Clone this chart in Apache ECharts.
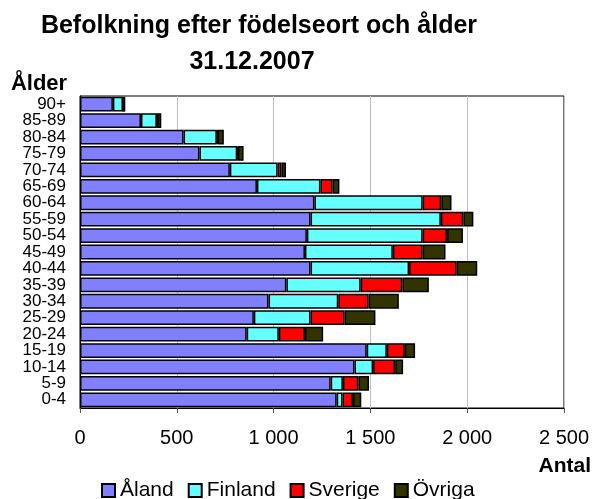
<!DOCTYPE html>
<html>
<head>
<meta charset="utf-8">
<script src="https://cdn.jsdelivr.net/npm/echarts@6/dist/echarts.min.js"></script>
<style>
  html, body { margin: 0; padding: 0; background: #fff; }
  #main { width: 592px; height: 499px; }
</style>
</head>
<body>
<div id="main"></div>
<script>
// age groups, bottom to top
var ageGroups = ['0-4', '5-9', '10-14', '15-19', '20-24', '25-29', '30-34', '35-39', '40-44',
  '45-49', '50-54', '55-59', '60-64', '65-69', '70-74', '75-79', '80-84', '85-89', '90+'];

var aland   = [1326, 1295, 1418, 1481, 861, 898, 974, 1066, 1191, 1162, 1172, 1191, 1211, 914, 774, 617, 535, 315, 170];
var finland = [30, 63, 96, 104, 166, 293, 360, 384, 509, 454, 598, 673, 559, 328, 247, 195, 172, 82, 52];
var sverige = [54, 80, 114, 93, 135, 176, 157, 215, 246, 154, 126, 116, 96, 63, 20, 4, 4, 2, 1];
var ovriga  = [43, 55, 41, 53, 94, 159, 156, 137, 106, 118, 82, 52, 53, 35, 23, 29, 32, 21, 11];

var xTicks = [0, 500, 1000, 1500, 2000, 2500];
var xTickLabels = ['0', '500', '1 000', '1 500', '2 000', '2 500'];

var FONT = '"Liberation Sans", Arial, sans-serif';

var chart = echarts.init(document.getElementById('main'), null, { renderer: 'canvas' });

function barSeries(name, data, color) {
  return {
    name: name,
    type: 'bar',
    stack: 'total',
    data: data,
    barCategoryGap: '10%',
    itemStyle: { color: color, borderColor: '#000', borderWidth: 1.5 },
    emphasis: { disabled: true }
  };
}

var option = {
  animation: false,
  backgroundColor: '#fff',
  textStyle: { fontFamily: FONT },
  graphic: [
    { type: 'text', x: 259, y: 26, style: { text: 'Befolkning efter födelseort och ålder', font: 'bold 25px ' + FONT, fill: '#000', align: 'center', verticalAlign: 'middle' } },
    { type: 'text', x: 252, y: 62, style: { text: '31.12.2007', font: 'bold 25px ' + FONT, fill: '#000', align: 'center', verticalAlign: 'middle' } },
    { type: 'text', x: 39, y: 84, style: { text: 'Ålder', font: 'bold 22px ' + FONT, fill: '#000', align: 'center', verticalAlign: 'middle' } },
    { type: 'text', x: 591, y: 466, style: { text: 'Antal', font: 'bold 21px ' + FONT, fill: '#000', align: 'right', verticalAlign: 'middle' } }
  ],
  legend: {
    data: ['Åland', 'Finland', 'Sverige', 'Övriga'],
    left: 96,
    top: 475,
    icon: 'rect',
    itemWidth: 13,
    itemHeight: 13,
    itemGap: 14,
    textStyle: { fontSize: 21, color: '#000', fontFamily: FONT }
  },
  grid: {
    left: 80,
    right: 28,
    top: 96,
    bottom: 91,
    show: true,
    borderColor: '#000',
    borderWidth: 1
  },
  xAxis: {
    type: 'value',
    min: 0,
    max: 2500,
    interval: 500,
    axisLine: { show: true, lineStyle: { color: '#000', width: 1 } },
    axisTick: { show: true, length: 5, lineStyle: { color: '#555' } },
    splitLine: { show: true, lineStyle: { color: '#c0c0c0', width: 1 } },
    axisLabel: {
      margin: 20,
      fontSize: 20,
      color: '#000',
      fontFamily: FONT,
      formatter: function (v) {
        var i = xTicks.indexOf(v);
        return i >= 0 ? xTickLabels[i] : '';
      }
    }
  },
  yAxis: {
    type: 'category',
    data: ageGroups,
    axisLine: { show: true, lineStyle: { color: '#000', width: 1 } },
    axisTick: { show: false },
    axisLabel: { margin: 14, fontSize: 17, color: '#000', fontFamily: FONT, interval: 0 }
  },
  series: [
    barSeries('Åland', aland, '#8080ff'),
    barSeries('Finland', finland, '#66ffff'),
    barSeries('Sverige', sverige, '#ff0000'),
    barSeries('Övriga', ovriga, '#333300')
  ]
};

chart.setOption(option);
</script>
</body>
</html>
